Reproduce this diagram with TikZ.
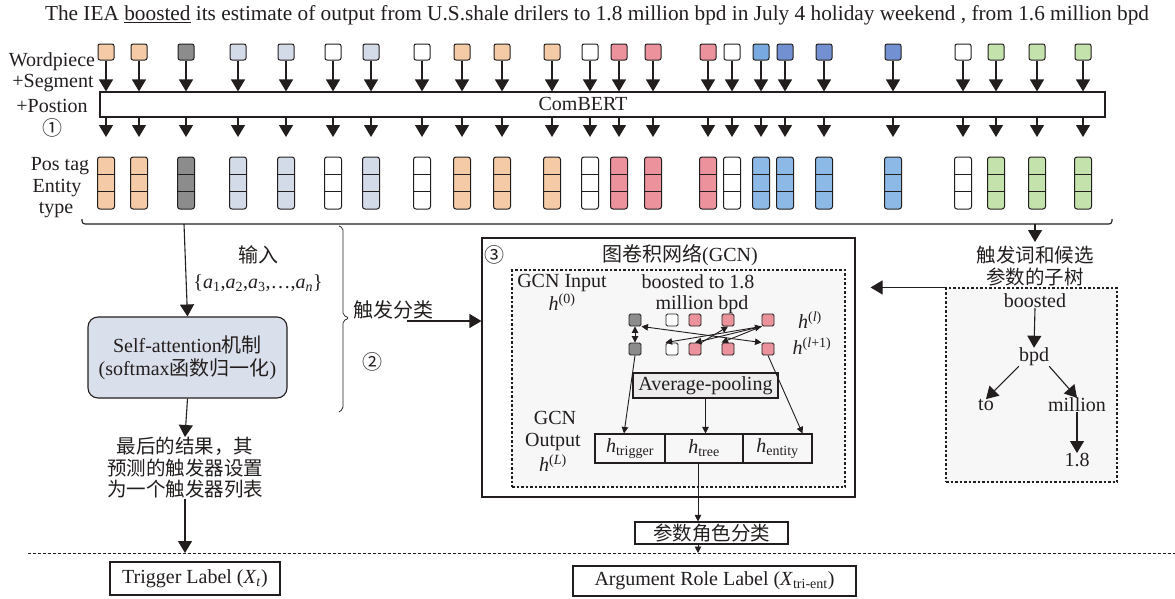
\documentclass[tikz,border=0pt]{standalone}
\usepackage{fontspec}
\setmainfont{Liberation Serif}
\newfontfamily\cjk{Noto Sans CJK SC}
\usetikzlibrary{arrows.meta,calc}
\definecolor{corg}{RGB}{245,203,167}
\definecolor{cgry}{RGB}{140,140,140}
\definecolor{clbg}{RGB}{212,219,232}
\definecolor{cpnk}{RGB}{236,146,157}
\definecolor{cblA}{RGB}{120,170,225}
\definecolor{cblB}{RGB}{115,145,210}
\definecolor{cblC}{RGB}{140,185,230}
\definecolor{cgrn}{RGB}{196,226,172}
\definecolor{lnc}{RGB}{35,30,30}
\begin{document}
\begin{tikzpicture}[x=1pt,y=-1pt,
  every node/.style={font=\fontsize{20}{23}\selectfont, text=lnc},
  tok/.style={draw=lnc, rounded corners=2pt, minimum width=16pt, minimum height=16pt, inner sep=0pt, line width=1pt},
  col/.style={draw=lnc, rounded corners=2.5pt, minimum width=17pt, minimum height=52pt, inner sep=0pt, line width=1pt},
  sq/.style={draw=lnc, rounded corners=1.5pt, minimum width=12pt, minimum height=12pt, inner sep=0pt, line width=0.9pt},
  arr/.style={-{Triangle[length=12pt,width=14pt]}, line width=1.1pt, draw=lnc},
  sarr/.style={-{Triangle[length=6.5pt,width=6.5pt]}, line width=0.9pt, draw=lnc},
  dsarr/.style={{Triangle[length=6.5pt,width=6.5pt]}-{Triangle[length=6.5pt,width=6.5pt]}, line width=0.9pt, draw=lnc},
  box/.style={draw=lnc, line width=1.1pt, inner sep=0pt},
  txt/.style={inner sep=0pt, align=center}
]
\useasboundingbox (0,0) rectangle (1175,598);

% title
\node[txt, font=\fontsize{21.3}{24}\selectfont] (title) at (597,15) {The IEA \underline{boosted} its estimate of output from U.S.shale drilers to 1.8 million bpd in July 4 holiday weekend , from 1.6 million bpd};

% left labels
\node[txt] (lw) at (52,62) {Wordpiece};
\node[txt] (ls) at (53,83) {+Segment};
\node[txt] (lp) at (52,106) {+Postion};
\node[txt] (c1) at (52,128) {{\cjk ①}};
\node[txt] (lpt) at (60,166) {Pos tag};
\node[txt] (le) at (57,188) {Entity};
\node[txt] (lt) at (56,210) {type};

% ComBERT
\node[box, minimum width=1005pt, minimum height=25pt] (bert) at (602.5,104.5) {};
\node[txt] (bertl) at (583,104) {ComBERT};

\foreach \x/\c/\cc [count=\i] in {106/corg/corg,139/corg/corg,186/cgry/cgry,238/clbg/clbg,286/clbg/clbg,333/white/white,371/clbg/clbg,422/white/white,462/corg/corg,502/corg/corg,552/corg/corg,590/white/white,619/cpnk/cpnk,653/cpnk/cpnk,708/cpnk/cpnk,732/white/white,761/cblA/cblC,785/cblB/cblC,824/cblB/cblC,893/cblB/cblC,963/white/white,996/cgrn/cgrn,1037/cgrn/cgrn,1083/cgrn/cgrn}{
  \node[tok, fill=\c] (t\i) at (\x,52) {};
  \draw[arr] (t\i.south) -- (t\i.south |- bert.north);
  \coordinate (o\i) at (\x,137);
  \draw[arr] (t\i.south |- bert.south) -- (o\i);
  \node[col, fill=\cc] (c\i) at (\x,183) {};
  \draw[line width=1pt, draw=lnc] (\x-8.5,174.3) -- (\x+8.5,174.3) (\x-8.5,191.7) -- (\x+8.5,191.7);
}

% horizontal brace
\draw[line width=1.1pt, draw=lnc, rounded corners=3pt] (82,219) -- (82,224) -- (1112,224) -- (1112,219);
\coordinate (bl) at (184,224);
\coordinate (br) at (1035,224);

% left branch
\node[box, rounded corners=10pt, fill=clbg!85!white, minimum width=199pt, minimum height=81pt, align=center] (sa) at (187.5,357.5) {Self-attention{\cjk 机制}\\(softmax{\cjk 函数归一化})};
\draw[arr] (bl) -- (sa.north);
\node[txt] (inp) at (258,255) {{\cjk 输入}};
\node[txt] (set) at (258,283) {\{\textit{a}\textsubscript{1},\textit{a}\textsubscript{2},\textit{a}\textsubscript{3},\dots,\textit{a}\textsubscript{\textit{n}}\}};
\node[txt, font=\fontsize{19.5}{21.5}\selectfont\cjk, anchor=north] (res) at (185,437) {最后的结果，其\\预测的触发器设置\\为一个触发器列表};
\draw[arr] (sa.south) -- (res.north);
\coordinate (dl) at (0,553);
\draw[arr] (res.south) -- (res.south |- dl);
\draw[line width=0.7pt, draw=lnc, dash pattern=on 3pt off 2pt] (28,553) -- (1175,553);
\node[box, minimum width=170pt, minimum height=33pt] (trig) at (195,578.5) {Trigger Label (\textit{X}\textsubscript{\textit{t}})};

% vertical brace
\draw[line width=0.7pt, draw=lnc, rounded corners=2pt] (339,226) -- (343,228) -- (343,315) -- (349,318) -- (343,321) -- (343,409) -- (339,412);
\node[txt] (cls) at (393,310) {{\cjk 触发分类}};
\node[txt] (c2) at (372,362) {{\cjk ②}};
\coordinate (clsa) at (407,321);

% GCN
\node[box, minimum width=373pt, minimum height=259pt] (gcn) at (668.5,367.5) {};
\draw[arr] (clsa) -- (clsa -| gcn.west);
\node[draw=lnc, line width=1.1pt, dash pattern=on 2.5pt off 2pt, fill=gray!6, minimum width=333pt, minimum height=217pt] (gin) at (678.5,378.5) {};
\node[txt] (c3) at (494,255) {{\cjk ③}};
\node[txt] (gt) at (680,255) {{\cjk 图卷积网络}(GCN)};
\node[txt] (gi) at (562,283) {GCN Input};
\node[txt] (h0) at (562,302) {\textit{h}\textsuperscript{(0)}};
\node[txt] (bt) at (698,282) {boosted to 1.8};
\node[txt] (mb) at (702,305) {million bpd};
\node[txt] (hl) at (810,320) {\textit{h}\textsuperscript{(\textit{l})}};
\node[txt] (hl1) at (812,346) {\textit{h}\textsuperscript{(\textit{l}+1)}};
\foreach \x/\c [count=\i] in {635/cgry,672/white,695/cpnk,728/cpnk,768/cpnk}{
  \node[sq, fill=\c] (a\i) at (\x,320) {};
  \node[sq, fill=\c] (b\i) at (\x,349) {};
}
\draw[dsarr] (a1.south) -- (b1.north);
\draw[dsarr] (a1.south east) -- (b5.north west);
\draw[sarr] (a5.south west) -- (b2.north west);
\draw[dsarr] (a5.south west) -- (b3.north);
\draw[sarr] (b3.north east) -- (a4.south);
\draw[sarr] (a5.south west) -- (b4.north west);

\node[box, fill=gray!15, minimum width=145pt, minimum height=25pt] (ap) at (705.5,385.5) {Average-pooling};
\node[txt] (go1) at (555,418) {GCN};
\node[txt] (go2) at (553,442) {Output};
\node[txt] (go3) at (553,463) {\textit{h}\textsuperscript{(\textit{L})}};
\node[box, minimum width=70pt, minimum height=29pt] (ht) at (630,448.5) {\textit{h}\textsubscript{trigger}};
\node[box, minimum width=78pt, minimum height=29pt] (htr) at (704,448.5) {\textit{h}\textsubscript{tree}};
\node[box, minimum width=69pt, minimum height=29pt] (he) at (777.5,448.5) {\textit{h}\textsubscript{entity}};
\draw[sarr] (b1.south) -- ([xshift=-6pt]ht.north);
\draw[sarr] (ap.south) -- (ap.south |- htr.north);
\draw[sarr] (b5.south) -- ([xshift=25pt]he.north);

\node[box, minimum width=153pt, minimum height=22pt, font=\fontsize{19.5}{21}\selectfont\cjk] (role) at (711.5,533) {参数角色分类};
\draw[sarr] ([xshift=-6pt]htr.south) -- ([xshift=-6pt]htr.south |- role.north);
\draw[sarr] ([xshift=-13.5pt]role.south) -- ([xshift=-13.5pt]role.south |- dl);
\node[box, minimum width=283pt, minimum height=30pt] (argl) at (714.5,581) {Argument Role Label (\textit{X}\textsubscript{tri-ent})};

% tree
\draw[arr] (br) -- (1035,242);
\node[txt, font=\fontsize{19.5}{22}\selectfont\cjk] (tt) at (1035,266) {触发词和候选\\参数的子树};
\node[draw=lnc, line width=1.1pt, dash pattern=on 2.5pt off 2pt, fill=gray!6, minimum width=171pt, minimum height=194pt] (tree) at (1031.5,385) {};
\draw[arr] (tree.north west) -- ($(gcn.east |- tree.north west)+(15,0)$);
\node[txt] (n1) at (1035,301) {boosted};
\node[txt] (n2) at (1034,357) {bpd};
\node[txt] (n3) at (986,405) {to};
\node[txt] (n4) at (1077,405) {million};
\node[txt] (n5) at (1077,460) {1.8};
\draw[arr] (n1.south) -- (n2.north);
\draw[arr] (n2.south west) -- (n3.north);
\draw[arr] (n2.south east) -- (n4.north);
\draw[arr] (n4.south) -- (n5.north);
\end{tikzpicture}
\end{document}
